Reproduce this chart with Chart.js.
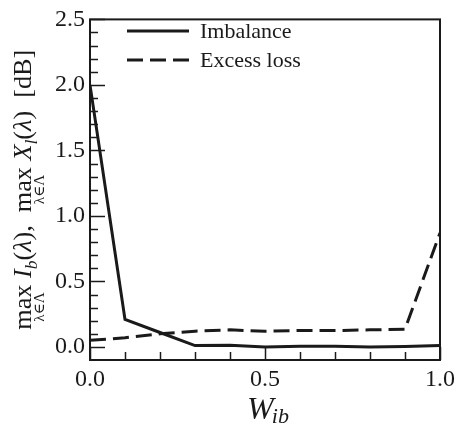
<!DOCTYPE html>
<html>
<head>
<meta charset="utf-8">
<script src="https://cdn.jsdelivr.net/npm/chart.js@4.4.1/dist/chart.umd.min.js"></script>
<style>
  body { margin: 0; background: #fff; }
  #wrap { width: 460px; height: 425px; }
</style>
</head>
<body>
<div id="wrap"><canvas id="chart" width="460" height="425"></canvas></div>
<script>
// data
const wValues = [0.0, 0.1, 0.2, 0.3, 0.4, 0.5, 0.6, 0.7, 0.8, 0.9, 1.0];
const imbalance = [2.0, 0.21, 0.11, 0.01, 0.012, 0.0, 0.005, 0.005, 0.0, 0.003, 0.01];
const excessLoss = [0.05, 0.07, 0.10, 0.12, 0.13, 0.12, 0.125, 0.125, 0.13, 0.135, 0.87];
const seriesNames = ['Imbalance', 'Excess loss'];
const yTickValues = [0.0, 0.5, 1.0, 1.5, 2.0, 2.5];
const xTickValues = [0.0, 0.5, 1.0];
const yMinorStep = 0.1;
const xMinorStep = 0.1;

const INK = '#1a1a1a';
const SERIF = '"Liberation Serif", "DejaVu Serif", serif';
const DASH = [16, 7];

function toPoints(xs, ys) {
    return xs.map((x, i) => ({ x: x, y: ys[i] }));
}

// frame, inward ticks, legend and axis titles
const decorations = {
    id: 'decorations',
    afterDraw(chart) {
        const ctx = chart.ctx;
        const a = chart.chartArea;
        const xs = chart.scales.x;
        const ys = chart.scales.y;
        ctx.save();
        ctx.strokeStyle = INK;
        ctx.fillStyle = INK;

        // frame
        ctx.lineWidth = 2;
        ctx.strokeRect(a.left, a.top, a.right - a.left, a.bottom - a.top);

        // ticks pointing into the plot
        ctx.lineWidth = 1.5;
        for (let i = 0; i <= Math.round(1 / xMinorStep); i++) {
            const v = i * xMinorStep;
            const px = Math.round(xs.getPixelForValue(v)) + 0.5;
            const len = (i % 5 === 0) ? 13 : 8;
            ctx.beginPath();
            ctx.moveTo(px, a.bottom);
            ctx.lineTo(px, a.bottom - len);
            ctx.stroke();
        }
        for (let i = 0; i <= Math.round(2.5 / yMinorStep); i++) {
            const v = i * yMinorStep;
            const py = Math.round(ys.getPixelForValue(v)) + 0.5;
            const len = (i % 5 === 0) ? 15 : 8;
            ctx.beginPath();
            ctx.moveTo(a.left, py);
            ctx.lineTo(a.left + len, py);
            ctx.stroke();
        }

        // legend
        ctx.lineWidth = 3;
        ctx.font = '22px ' + SERIF;
        ctx.textBaseline = 'middle';
        ctx.textAlign = 'left';
        const rows = [31, 60];
        seriesNames.forEach((name, i) => {
            ctx.setLineDash(i === 1 ? DASH : []);
            ctx.beginPath();
            ctx.moveTo(127, rows[i]);
            ctx.lineTo(189, rows[i]);
            ctx.stroke();
            ctx.setLineDash([]);
            ctx.fillText(name, 200, rows[i] + 1);
        });

        // x title: W_ib
        ctx.textBaseline = 'alphabetic';
        ctx.font = 'italic 32px ' + SERIF;
        const wW = ctx.measureText('W').width;
        ctx.font = 'italic 22px ' + SERIF;
        const wSub = ctx.measureText('ib').width;
        const cx = (a.left + a.right) / 2 + 4;
        let x0 = cx - (wW + wSub) / 2;
        ctx.font = 'italic 32px ' + SERIF;
        ctx.fillText('W', x0, 419);
        ctx.font = 'italic 22px ' + SERIF;
        ctx.fillText('ib', x0 + wW - 2, 423);

        // y title: max_{λ∈Λ} I_b(λ), max_{λ∈Λ} X_l(λ) [dB]
        const parts = [
            { t: 'max', under: 'λ∈Λ' },
            { t: ' ' },
            { t: 'I', it: true },
            { t: 'b', it: true, sub: true },
            { t: '(' }, { t: 'λ', it: true }, { t: '),  ' },
            { t: 'max', under: 'λ∈Λ' },
            { t: ' ' },
            { t: 'X', it: true },
            { t: 'l', it: true, sub: true },
            { t: '(' }, { t: 'λ', it: true }, { t: ')  [dB]' }
        ];
        let main = 24, small = 16;
        const underSize = 15;
        const measure = () => {
            const fontFor = p => (p.it ? 'italic ' : '') + (p.sub ? small : main) + 'px ' + SERIF;
            let sum = 0;
            parts.forEach(p => {
                p.font = fontFor(p);
                ctx.font = p.font;
                p.w = ctx.measureText(p.t).width;
                if (p.under) {
                    ctx.font = underSize + 'px ' + SERIF;
                    p.w = Math.max(p.w, ctx.measureText(p.under).width);
                }
                sum += p.w;
            });
            return sum;
        };
        const k = 280 / measure();
        main *= k;
        small *= k;
        const total = measure();
        ctx.translate(31, (a.top + a.bottom) / 2);
        ctx.rotate(-Math.PI / 2);
        let pos = -total / 2;
        parts.forEach(p => {
            ctx.font = p.font;
            if (p.under) {
                ctx.textAlign = 'center';
                ctx.fillText(p.t, pos + p.w / 2, 0);
                ctx.font = underSize + 'px ' + SERIF;
                ctx.fillText(p.under, pos + p.w / 2, 13);
                ctx.textAlign = 'left';
            } else {
                ctx.fillText(p.t, pos, p.sub ? 6 : 0);
            }
            pos += p.w;
        });
        ctx.restore();
    }
};

new Chart(document.getElementById('chart'), {
    type: 'line',
    data: {
        datasets: [
            {
                label: seriesNames[0],
                data: toPoints(wValues, imbalance),
                borderColor: INK,
                borderWidth: 3,
                pointRadius: 0,
                tension: 0
            },
            {
                label: seriesNames[1],
                data: toPoints(wValues, excessLoss),
                borderColor: INK,
                borderWidth: 3,
                borderDash: DASH,
                pointRadius: 0,
                tension: 0
            }
        ]
    },
    options: {
        responsive: false,
        animation: false,
        devicePixelRatio: 1,
        layout: { padding: { top: 13, right: 20, left: 0, bottom: 0 } },
        plugins: {
            legend: { display: false },
            tooltip: { enabled: false }
        },
        scales: {
            x: {
                type: 'linear',
                min: 0,
                max: 1,
                grid: { display: false, drawTicks: false },
                border: { display: false },
                afterBuildTicks: s => { s.ticks = xTickValues.map(v => ({ value: v })); },
                afterFit: s => { s.height = 65; },
                ticks: {
                    color: INK,
                    padding: 5,
                    maxRotation: 0,
                    font: { family: SERIF, size: 24 },
                    callback: v => v.toFixed(1)
                }
            },
            y: {
                type: 'linear',
                min: -0.1,
                max: 2.5,
                grid: { display: false, drawTicks: false },
                border: { display: false },
                afterBuildTicks: s => { s.ticks = yTickValues.map(v => ({ value: v })); },
                afterFit: s => { s.width = 90; },
                ticks: {
                    color: INK,
                    padding: 5,
                    font: { family: SERIF, size: 24 },
                    callback: v => v.toFixed(1)
                }
            }
        }
    },
    plugins: [decorations]
});
</script>
</body>
</html>
